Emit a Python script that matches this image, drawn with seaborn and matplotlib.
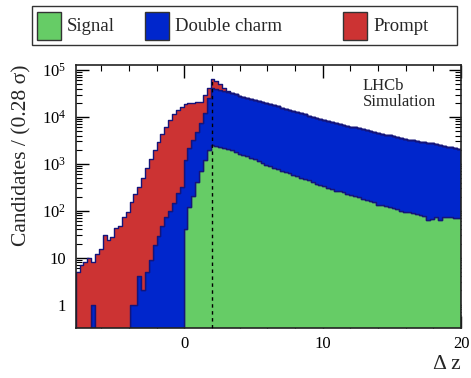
import numpy as np
import pandas as pd
import matplotlib
matplotlib.use("Agg")
import matplotlib.pyplot as plt
import seaborn as sns
from matplotlib.patches import Rectangle
from matplotlib.ticker import MultipleLocator, LogLocator, FuncFormatter, NullFormatter

# ---------------- data ----------------
x_min, x_max, n_bins = -7.85, 20.0, 100
cut_value = 2.0

categories = ["Signal", "Double charm", "Prompt"]

signal = [
    0, 0, 0, 0, 0, 0, 0, 0, 0, 0,
    0, 0, 0, 0, 0, 0, 0, 0, 0, 0,
    0, 0, 0, 0, 0, 0, 0, 0, 40, 120,
    210, 420, 700, 1200, 2000, 2500, 2400, 2300, 2200, 2100,
    1950, 1800, 1600, 1550, 1450, 1350, 1250, 1150, 1050, 960,
    880, 820, 770, 720, 680, 630, 590, 550, 510, 480,
    450, 420, 380, 350, 340, 310, 290, 270, 260, 245,
    230, 215, 205, 195, 180, 170, 160, 150, 135, 130,
    125, 120, 112, 108, 100, 95, 92, 88, 85, 80,
    78, 64, 66, 75, 62, 74, 72, 75, 70, 69,
]

double_charm = [
    0, 0, 0, 0, 1, 0, 0, 0, 0, 0,
    0, 0, 0, 0, 1, 1, 4, 2, 5, 9,
    19, 29, 47, 75, 98, 145, 235, 325, 1160, 2030,
    2990, 4380, 6600, 10800, 23000, 38500, 37000, 35300, 33700, 31800,
    30050, 28400, 26900, 25650, 24250, 23150, 22150, 20950, 19850, 19040,
    17920, 16980, 16030, 15080, 14420, 13670, 12910, 12150, 11490, 10920,
    10250, 9680, 9170, 8650, 8160, 7820, 7470, 7130, 6820, 6515,
    6230, 6025, 5755, 5555, 5320, 5130, 4910, 4690, 4485, 4290,
    4095, 3910, 3738, 3562, 3410, 3295, 3178, 3072, 2965, 2870,
    2802, 2756, 2684, 2585, 2508, 2376, 2268, 2185, 2090, 2001,
]

prompt = [
    5, 7, 8, 10, 7, 12, 15, 31, 24, 27,
    42, 48, 75, 95, 149, 229, 311, 498, 795, 1241,
    1941, 2921, 4303, 6075, 8452, 11255, 13765, 16175, 17500, 17350,
    16800, 15700, 13700, 17500, 16000, 25000, 19600, 12400, 6100, 1500,
    500, 0, 0, 0, 0, 0, 0, 0, 0, 0,
    0, 0, 0, 0, 0, 0, 0, 0, 0, 0,
    0, 0, 0, 0, 0, 0, 0, 0, 0, 0,
    0, 0, 0, 0, 0, 0, 0, 0, 0, 0,
    0, 0, 0, 0, 0, 0, 0, 0, 0, 0,
    0, 0, 0, 0, 0, 0, 0, 0, 0, 0,
]

colors = {"Signal": "#66cc66", "Double charm": "#0026cc", "Prompt": "#cc3333"}
edge_col = "#14147a"

# ---------------- table ----------------
edges = np.linspace(x_min, x_max, n_bins + 1)
centers = 0.5 * (edges[:-1] + edges[1:])
series = {"Signal": signal, "Double charm": double_charm, "Prompt": prompt}
df = pd.concat(
    [pd.DataFrame({"dz": centers, "n": vals, "sample": name}) for name, vals in series.items()],
    ignore_index=True,
)

# ---------------- style ----------------
sns.set_style("ticks")
plt.rcParams["font.family"] = ["Liberation Serif", "DejaVu Serif"]
plt.rcParams["mathtext.fontset"] = "stix"

W, H = 471, 378
fig = plt.figure(figsize=(W / 100, H / 100), dpi=100)
ax = fig.add_axes([75.7 / W, 1 - 328 / H, (461 - 75.7) / W, (328 - 64.7) / H])

sns.histplot(
    data=df, x="dz", weights="n", hue="sample",
    hue_order=["Prompt", "Double charm", "Signal"],
    bins=[float(e) for e in edges], multiple="stack", element="step", fill=True,
    palette=colors, alpha=1, edgecolor=edge_col, linewidth=1.0,
    legend=False, ax=ax,
)
ax.set_yscale("log")
y_lo, y_hi = 0.316, 1.3e5
ax.set_xlim(x_min, x_max)
ax.set_ylim(y_lo, y_hi)

# dashed cut line up to the stacked total at the cut
total = np.array(signal) + np.array(double_charm) + np.array(prompt)
ib = np.searchsorted(edges, cut_value) - 1
ax.plot([cut_value, cut_value], [y_lo, total[ib]], ls=(0, (2.5, 2.5)), color="black", lw=1.0, zorder=5)

# ticks
ax.xaxis.set_major_locator(MultipleLocator(10))
ax.xaxis.set_minor_locator(MultipleLocator(2))
ax.yaxis.set_major_locator(LogLocator(base=10, numticks=10))
ax.yaxis.set_minor_locator(LogLocator(base=10, subs=np.arange(2, 10), numticks=20))
ax.yaxis.set_minor_formatter(NullFormatter())


def yfmt(v, pos):
    e = int(round(np.log10(v)))
    if e == 0:
        return "1"
    if e == 1:
        return "10"
    return r"$\mathregular{10^{%d}}$" % e


ax.yaxis.set_major_formatter(FuncFormatter(yfmt))
ax.tick_params(which="both", direction="in", top=True, right=True, colors="black", labelsize=12)
ax.tick_params(which="major", length=9, width=1.0)
ax.tick_params(which="minor", length=4.5, width=0.8)
ax.tick_params(axis="y", pad=7)
ax.tick_params(axis="x", pad=6)
for s in ax.spines.values():
    s.set_color("#222222")
    s.set_linewidth(1.2)

ax.set_xlabel("Δ z", loc="right", fontsize=15.5, labelpad=2)
ax.set_ylabel("Candidates / (0.28 σ)", loc="top", fontsize=15.5, labelpad=7)

ax.text(0.745, 0.95, "LHCb\nSimulation", transform=ax.transAxes, fontsize=12,
        ha="left", va="top", linespacing=1.05)

# legend box on top
def fx(px):
    return px / W


def fy(py):
    return 1 - py / H


fig.patches.append(Rectangle((fx(32), fy(45)), fx(457) - fx(32), fy(6) - fy(45),
                             transform=fig.transFigure, fill=False, edgecolor="#333333", lw=1.0))
legend_items = [(36.7, 67, "Signal"), (145, 175, "Double charm"), (342.7, 373, "Prompt")]
for px, tx, name in legend_items:
    fig.patches.append(Rectangle((fx(px), fy(39.5)), fx(px + 24) - fx(px), fy(12.5) - fy(39.5),
                                 transform=fig.transFigure, facecolor=colors[name],
                                 edgecolor="#333333", lw=1.0))
    fig.text(fx(tx), fy(31), name, fontsize=13.5, ha="left", va="baseline")

fig.savefig("out.png", dpi=100)
